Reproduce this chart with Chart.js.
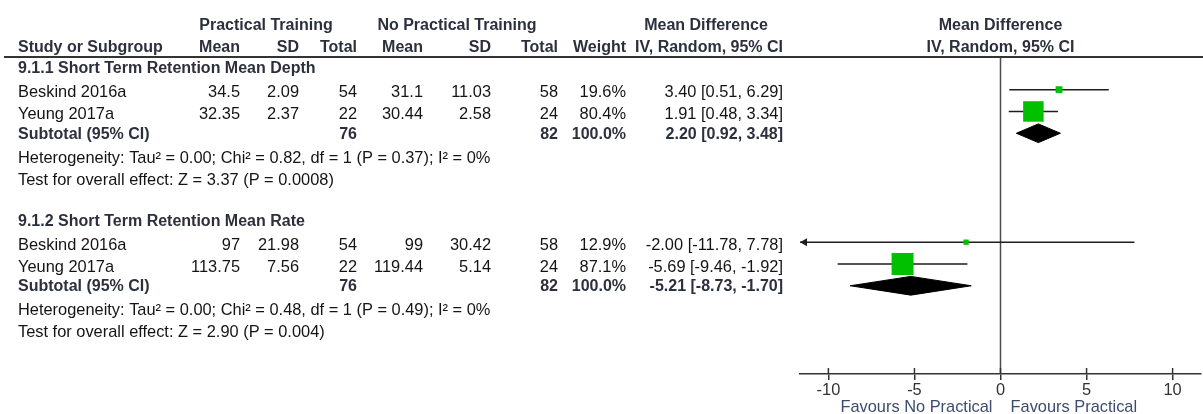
<!DOCTYPE html>
<html>
<head>
<meta charset="utf-8">
<title>Forest plot: practical training vs no practical training</title>
<script src="https://cdn.jsdelivr.net/npm/chart.js@4/dist/chart.umd.min.js"></script>
<style>
  html, body { margin: 0; padding: 0; background: #ffffff; }
  #wrap { position: relative; width: 1203px; height: 414px; }
  canvas { display: block; }
</style>
</head>
<body>
<div id="wrap"><canvas id="forest" width="1203" height="414"></canvas></div>
<script>
// ---- study data ----
const groupTitles = ['9.1.1 Short Term Retention Mean Depth', '9.1.2 Short Term Retention Mean Rate'];
const studyNames = ['Beskind 2016a', 'Yeung 2017a', 'Beskind 2016a', 'Yeung 2017a'];
const studyGroup = [0, 0, 1, 1];
const ptMean = [34.5, 32.35, 97, 113.75];
const ptSD = [2.09, 2.37, 21.98, 7.56];
const ptTotal = [54, 22, 54, 22];
const npMean = [31.1, 30.44, 99, 119.44];
const npSD = [11.03, 2.58, 30.42, 5.14];
const npTotal = [58, 24, 58, 24];
const weights = [19.6, 80.4, 12.9, 87.1];
const mdEst = [3.40, 1.91, -2.00, -5.69];
const mdLow = [0.51, 0.48, -11.78, -9.46];
const mdHigh = [6.29, 3.34, 7.78, -1.92];

// ---- subgroup totals ----
const subPtTotal = [76, 76];
const subNpTotal = [82, 82];
const subWeight = [100.0, 100.0];
const subEst = [2.20, -5.21];
const subLow = [0.92, -8.73];
const subHigh = [3.48, -1.70];
const heterogeneity = [
  'Heterogeneity: Tau\u00B2 = 0.00; Chi\u00B2 = 0.82, df = 1 (P = 0.37); I\u00B2 = 0%',
  'Heterogeneity: Tau\u00B2 = 0.00; Chi\u00B2 = 0.48, df = 1 (P = 0.49); I\u00B2 = 0%'
];
const overallTest = [
  'Test for overall effect: Z = 3.37 (P = 0.0008)',
  'Test for overall effect: Z = 2.90 (P = 0.004)'
];

// ---- axis ----
const xTicks = [-10, -5, 0, 5, 10];
const xLabelLeft = 'Favours No Practical';
const xLabelRight = 'Favours Practical';

// ---- layout ----
const FONT = '"Liberation Sans", Arial, Helvetica, sans-serif';
const X_MIN = -11.65, X_MAX = 11.65;
const groupSlot = [0, 7];                 // y-slot of each subgroup title
const studySlot = [1, 2, 8, 9];           // y-slot of each study row
const subtotalSlot = [3, 10];             // y-slot of each subtotal diamond
const DIAMOND_HALF = 0.43;                // diamond half-height in slot units
const COL = { study: 18, ptMean: 240, ptSD: 299, ptTotal: 357, npMean: 423, npSD: 491,
              npTotal: 558, weight: 626, md: 783 };
const LINE_OFF = { header: 1, study: [25, 47], subtotal: 66.5, het: 90.5, test: 112.5 };
const TEXT = '#141414', BOLD = '#2b303c', BLUE = '#3d4c6e', AXIS = '#333333';

const fmtCI = (e, l, h) => `${e.toFixed(2)} [${l.toFixed(2)}, ${h.toFixed(2)}]`;
const squareSide = w => 2.4 + 0.225 * w;

// ---- datasets ----
const datasets = [];
datasets.push({
  label: 'Study estimate',
  data: mdEst.map((v, i) => ({ x: v, y: studySlot[i] })),
  pointStyle: 'rect',
  pointRadius: weights.map(w => squareSide(w) / Math.SQRT2),
  pointHoverRadius: weights.map(w => squareSide(w) / Math.SQRT2),
  backgroundColor: '#00c000',
  borderColor: '#00c000',
  borderWidth: 0,
  showLine: false,
  order: 0
});
mdEst.forEach((v, i) => {
  datasets.push({
    label: 'CI ' + i,
    data: [{ x: mdLow[i], y: studySlot[i] }, { x: mdHigh[i], y: studySlot[i] }],
    showLine: true,
    borderColor: '#1e1e1e',
    borderWidth: 1.5,
    pointRadius: 0,
    order: 2
  });
});
subEst.forEach((v, g) => {
  const r = subtotalSlot[g];
  datasets.push({
    label: 'Subtotal ' + g,
    data: [
      { x: subLow[g], y: r }, { x: v, y: r - DIAMOND_HALF },
      { x: subHigh[g], y: r }, { x: v, y: r + DIAMOND_HALF }, { x: subLow[g], y: r }
    ],
    showLine: true,
    fill: 'shape',
    backgroundColor: '#000000',
    borderColor: '#000000',
    borderWidth: 1,
    pointRadius: 0,
    tension: 0,
    order: 1
  });
});

// ---- table text, reference line and decorations ----
const forestDecor = {
  id: 'forestDecor',
  beforeDatasetsDraw(chart) {
    const { ctx, chartArea, scales } = chart;
    const x0 = scales.x.getPixelForValue(0);
    ctx.save();
    ctx.strokeStyle = '#4a4a4a';
    ctx.lineWidth = 1.5;
    ctx.beginPath();
    ctx.moveTo(x0, chartArea.top);
    ctx.lineTo(x0, chartArea.bottom);
    ctx.stroke();
    ctx.restore();
  },
  afterDraw(chart) {
    const { ctx, chartArea, scales } = chart;
    const xs = scales.x, ys = scales.y;
    ctx.save();

    // header rule
    ctx.strokeStyle = AXIS;
    ctx.lineWidth = 2;
    ctx.beginPath();
    ctx.moveTo(4, chartArea.top);
    ctx.lineTo(chart.width, chartArea.top);
    ctx.stroke();

    // upper half of the tick marks
    ctx.lineWidth = 1.5;
    xTicks.forEach(t => {
      const px = xs.getPixelForValue(t);
      ctx.beginPath();
      ctx.moveTo(px, chartArea.bottom - 6);
      ctx.lineTo(px, chartArea.bottom);
      ctx.stroke();
    });

    // arrowheads for intervals running past the axis
    ctx.fillStyle = '#1e1e1e';
    mdEst.forEach((v, i) => {
      const py = ys.getPixelForValue(studySlot[i]);
      if (mdLow[i] < X_MIN) {
        const px = chartArea.left;
        ctx.beginPath();
        ctx.moveTo(px, py); ctx.lineTo(px + 7, py - 4); ctx.lineTo(px + 7, py + 4);
        ctx.closePath(); ctx.fill();
      }
      if (mdHigh[i] > X_MAX) {
        const px = chartArea.right;
        ctx.beginPath();
        ctx.moveTo(px, py); ctx.lineTo(px - 7, py - 4); ctx.lineTo(px - 7, py + 4);
        ctx.closePath(); ctx.fill();
      }
    });

    const put = (s, x, y, align, bold, color) => {
      ctx.font = bold ? 'bold 16px ' + FONT : '16.4px ' + FONT;
      ctx.fillStyle = color || (bold ? BOLD : TEXT);
      ctx.textAlign = align;
      ctx.textBaseline = 'middle';
      ctx.fillText(s, x, y);
    };

    // column headers
    const x0 = xs.getPixelForValue(0);
    const h1 = 25.5, h2 = 47.5;
    put('Practical Training', 266, h1, 'center', true);
    put('No Practical Training', 457, h1, 'center', true);
    put('Mean Difference', 706, h1, 'center', true);
    put('Mean Difference', x0, h1, 'center', true);
    put('Study or Subgroup', COL.study, h2, 'left', true);
    put('Mean', COL.ptMean, h2, 'right', true);
    put('SD', COL.ptSD, h2, 'right', true);
    put('Total', COL.ptTotal, h2, 'right', true);
    put('Mean', COL.npMean, h2, 'right', true);
    put('SD', COL.npSD, h2, 'right', true);
    put('Total', COL.npTotal, h2, 'right', true);
    put('Weight', COL.weight, h2, 'right', true);
    put('IV, Random, 95% CI', COL.md, h2, 'right', true);
    put('IV, Random, 95% CI', x0, h2, 'center', true);

    // subgroup blocks
    groupTitles.forEach((title, g) => {
      const top = ys.getPixelForValue(groupSlot[g]);
      put(title, COL.study, top + LINE_OFF.header, 'left', true);
      let k = 0;
      studyNames.forEach((name, i) => {
        if (studyGroup[i] !== g) return;
        const y = top + LINE_OFF.study[k++];
        put(name, COL.study, y, 'left', false);
        put(String(ptMean[i]), COL.ptMean, y, 'right', false);
        put(String(ptSD[i]), COL.ptSD, y, 'right', false);
        put(String(ptTotal[i]), COL.ptTotal, y, 'right', false);
        put(String(npMean[i]), COL.npMean, y, 'right', false);
        put(String(npSD[i]), COL.npSD, y, 'right', false);
        put(String(npTotal[i]), COL.npTotal, y, 'right', false);
        put(weights[i].toFixed(1) + '%', COL.weight, y, 'right', false);
        put(fmtCI(mdEst[i], mdLow[i], mdHigh[i]), COL.md, y, 'right', false);
      });
      const ySub = top + LINE_OFF.subtotal;
      put('Subtotal (95% CI)', COL.study, ySub, 'left', true);
      put(String(subPtTotal[g]), COL.ptTotal, ySub, 'right', true);
      put(String(subNpTotal[g]), COL.npTotal, ySub, 'right', true);
      put(subWeight[g].toFixed(1) + '%', COL.weight, ySub, 'right', true);
      put(fmtCI(subEst[g], subLow[g], subHigh[g]), COL.md, ySub, 'right', true);
      put(heterogeneity[g], COL.study, top + LINE_OFF.het, 'left', false);
      put(overallTest[g], COL.study, top + LINE_OFF.test, 'left', false);
    });

    // direction labels under the axis
    put(xLabelLeft, x0 - 8, 407.5, 'right', false, BLUE);
    put(xLabelRight, x0 + 10, 407.5, 'left', false, BLUE);

    ctx.restore();
  }
};

new Chart(document.getElementById('forest'), {
  type: 'scatter',
  data: { datasets },
  options: {
    responsive: false,
    animation: false,
    events: [],
    layout: { autoPadding: false, padding: { left: 800, right: 2, top: 57, bottom: 0 } },
    plugins: { legend: { display: false }, tooltip: { enabled: false } },
    scales: {
      x: {
        type: 'linear',
        min: X_MIN,
        max: X_MAX,
        afterBuildTicks: s => { s.ticks = xTicks.map(v => ({ value: v })); },
        afterFit: s => { s.height = 40; s.paddingLeft = 0; s.paddingRight = 0; },
        grid: { drawOnChartArea: false, drawTicks: true, tickLength: 6, color: AXIS, lineWidth: 1.5 },
        border: { display: true, color: AXIS, width: 1.5 },
        ticks: { color: AXIS, padding: 1, font: { family: FONT, size: 16.4 }, callback: v => String(v) }
      },
      y: {
        type: 'linear',
        display: false,
        reverse: true,
        min: -0.5,
        max: 14.05
      }
    }
  },
  plugins: [forestDecor]
});
</script>
</body>
</html>
